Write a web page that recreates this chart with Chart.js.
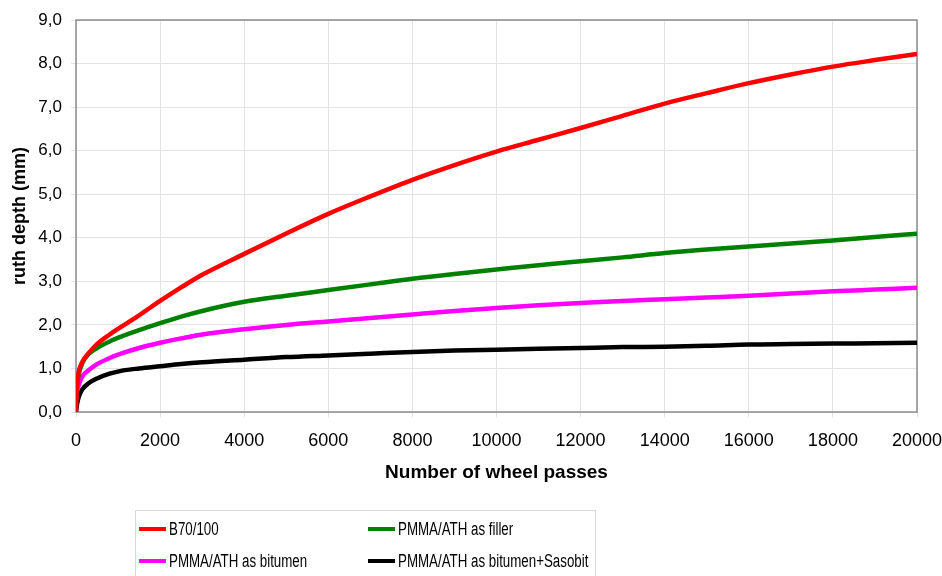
<!DOCTYPE html>
<html>
<head>
<meta charset="utf-8">
<script src="https://cdn.jsdelivr.net/npm/chart.js@4.4.1/dist/chart.umd.min.js"></script>
<style>
  html, body { margin: 0; padding: 0; background: #fff; }
  #wrap { width: 942px; height: 576px; }
</style>
</head>
<body>
<div id="wrap"><canvas id="chart" width="942" height="576"></canvas></div>
<script>
// wheel passes (x) and rut depth in mm for each mix
const passes   = [0, 20, 60, 150, 300, 500, 800, 1100, 1500, 2000, 2500, 3000, 4000, 5000, 6000, 7000, 8000, 9000, 10000, 11000, 12000, 13000, 14000, 15000, 16000, 17000, 18000, 19000, 20000];
const b70      = [0, 0.6, 0.9, 1.15, 1.35, 1.56, 1.78, 1.97, 2.22, 2.55, 2.86, 3.15, 3.63, 4.1, 4.55, 4.95, 5.33, 5.67, 5.98, 6.25, 6.52, 6.8, 7.08, 7.32, 7.55, 7.75, 7.93, 8.08, 8.22];
const filler   = [0.3, 0.6, 0.85, 1.12, 1.33, 1.47, 1.62, 1.74, 1.88, 2.04, 2.19, 2.32, 2.53, 2.67, 2.8, 2.93, 3.06, 3.17, 3.27, 3.37, 3.46, 3.55, 3.65, 3.73, 3.8, 3.87, 3.94, 4.02, 4.09];
const bitumen  = [0.25, 0.45, 0.6, 0.82, 0.96, 1.1, 1.24, 1.35, 1.47, 1.59, 1.69, 1.78, 1.9, 2.0, 2.08, 2.16, 2.24, 2.32, 2.39, 2.45, 2.5, 2.55, 2.59, 2.63, 2.67, 2.72, 2.77, 2.81, 2.85];
const sasobit  = [0, 0.15, 0.33, 0.52, 0.66, 0.77, 0.88, 0.95, 1.0, 1.05, 1.1, 1.14, 1.2, 1.26, 1.3, 1.34, 1.38, 1.41, 1.43, 1.45, 1.47, 1.49, 1.5, 1.52, 1.55, 1.56, 1.57, 1.58, 1.59];

const seriesNames  = ['B70/100', 'PMMA/ATH as filler', 'PMMA/ATH as bitumen', 'PMMA/ATH as bitumen+Sasobit'];
const seriesValues = [b70, filler, bitumen, sasobit];
const seriesColors = ['#ff0000', '#008000', '#ff00ff', '#000000'];

const yTicks = [0, 1, 2, 3, 4, 5, 6, 7, 8, 9];

const FONT = "'Liberation Sans', Arial, sans-serif";

const toPoints = vals => vals.map((v, i) => ({ x: passes[i], y: v }));

// frame around the plot area
const frame = {
  id: 'frame',
  beforeDatasetsDraw(chart) {
    const { ctx, chartArea: a } = chart;
    ctx.save();
    ctx.strokeStyle = '#8c8c8c';
    ctx.lineWidth = 1.5;
    ctx.strokeRect(a.left, a.top, a.right - a.left, a.bottom - a.top);
    ctx.restore();
  }
};

// boxed two-column legend under the axis title (text is condensed like the original)
const boxLegend = {
  id: 'boxLegend',
  afterDraw(chart) {
    const { ctx } = chart;
    ctx.save();
    ctx.strokeStyle = '#d9d9d9';
    ctx.lineWidth = 1;
    ctx.strokeRect(135.5, 510.5, 460, 80);
    ctx.font = '18px ' + FONT;
    ctx.textBaseline = 'middle';
    const cols = [139, 368];
    const rows = [529, 561];
    chart.data.datasets.forEach((ds, i) => {
      const x = cols[i % 2], y = rows[Math.floor(i / 2)];
      ctx.strokeStyle = ds.borderColor;
      ctx.lineWidth = 4;
      ctx.beginPath();
      ctx.moveTo(x, y);
      ctx.lineTo(x + 27, y);
      ctx.stroke();
      ctx.save();
      ctx.translate(x + 30, y + 1);
      ctx.scale(0.74, 1);
      ctx.fillStyle = '#000';
      ctx.fillText(ds.label, 0, 0);
      ctx.restore();
    });
    ctx.restore();
  }
};

new Chart(document.getElementById('chart'), {
  type: 'line',
  data: {
    datasets: seriesNames.map((name, i) => ({
      label: name,
      data: toPoints(seriesValues[i]),
      borderColor: seriesColors[i],
      backgroundColor: seriesColors[i],
      borderWidth: 4.5,
      pointRadius: 0,
      fill: false,
      cubicInterpolationMode: 'monotone'
    }))
  },
  options: {
    responsive: false,
    animation: false,
    layout: { padding: { top: 20, right: 25, left: 0, bottom: 92 } },
    plugins: { legend: { display: false }, tooltip: { enabled: false } },
    scales: {
      x: {
        type: 'linear',
        min: 0,
        max: 20000,
        afterFit(scale) {
          scale.height = 72;
          scale.paddingLeft = 0;
          scale.paddingRight = 0;
        },
        ticks: {
          stepSize: 2000,
          color: '#000',
          padding: 13,
          maxRotation: 0,
          font: { family: FONT, size: 18 },
          callback: v => String(v)
        },
        grid: { color: '#e3e3e3', tickLength: 5, lineWidth: 1 },
        border: { display: false },
        title: {
          display: true,
          text: 'Number of wheel passes',
          color: '#000',
          padding: { top: 0, bottom: 0 },
          font: { family: FONT, size: 19, weight: 'bold' }
        }
      },
      y: {
        min: 0,
        max: 9,
        afterFit(scale) {
          scale.width = 76;
          scale.paddingTop = 0;
          scale.paddingBottom = 0;
        },
        afterBuildTicks(scale) { scale.ticks = yTicks.map(v => ({ value: v })); },
        ticks: {
          color: '#000',
          padding: 9,
          font: { family: FONT, size: 17 },
          callback: v => Number(v).toFixed(1).replace('.', ',')
        },
        grid: { color: '#e3e3e3', tickLength: 5, lineWidth: 1 },
        border: { display: false },
        title: {
          display: true,
          text: 'ruth depth (mm)',
          color: '#000',
          padding: { top: 9, bottom: 0 },
          font: { family: FONT, size: 18, weight: 'bold' }
        }
      }
    }
  },
  plugins: [frame, boxLegend]
});
</script>
</body>
</html>
